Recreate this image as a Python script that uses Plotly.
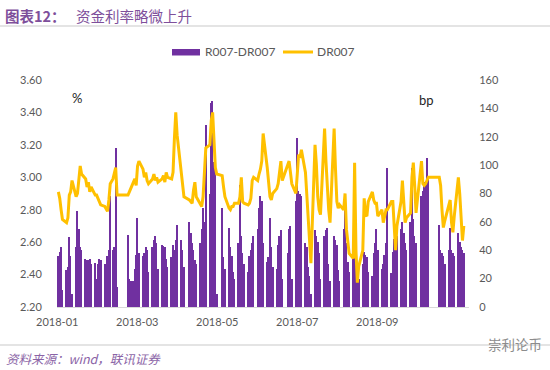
import pandas as pd
import plotly.graph_objects as go

# ---------------- data ----------------
title_prefix = "图表12："
title_text = "资金利率略微上升"
bar_name = "R007-DR007"
line_name = "DR007"
left_unit = "%"
right_unit = "bp"
source_text = "资料来源：wind，联讯证券"
watermark = "崇利论币"

tick_dates = ["2018-01-01 04:30", "2018-02-28 19:00", "2018-04-28 09:30",
              "2018-06-26 00:00", "2018-08-23 14:30"]
tick_labels = ["2018-01", "2018-03", "2018-05", "2018-07", "2018-09"]

holidays = ["2018-02-15", "2018-02-16", "2018-02-19", "2018-02-20", "2018-02-21",
            "2018-04-05", "2018-04-06", "2018-04-30", "2018-05-01", "2018-06-18",
            "2018-09-24", "2018-10-01", "2018-10-02", "2018-10-03", "2018-10-04",
            "2018-10-05"]
makeup_days = ["2018-02-11", "2018-02-24", "2018-04-08", "2018-04-28",
               "2018-09-29", "2018-09-30"]

# R007-DR007 spread (bp), by month
spread_jan = [36, 39, 42, 12, 26, 28, 49, 36, 9, 42, 68, 55, 42, 40, 34, 33, 33, 34, 30, 31, 20, 30]
spread_feb = [34, 33, 30, 27, 36, 40, 78, 40, 42, 112, 14, 51, 20, 18, 18, 27, 37]
spread_mar = [63, 38, 36, 38, 42, 40, 25, 42, 47, 50, 45, 27, 44, 43, 42, 34, 28, 35, 44, 40, 47, 58]
spread_apr = [47, 40, 28, 60, 52, 45, 40, 33, 30, 45, 55, 70, 60, 128, 80, 144, 145, 102, 95, 9]
spread_may = [70, 35, 27, 56, 42, 36, 25, 20, 45, 86, 50, 38, 30, 25, 36, 40, 45, 50, 55, 70, 78, 75]
spread_jun = [45, 32, 35, 63, 42, 28, 27, 44, 50, 54, 20, 38, 55, 57, 20, 75, 119, 82, 80, 78]
spread_jul = [45, 42, 28, 22, 9, 54, 50, 46, 38, 20, 50, 54, 56, 30, 18, 50, 47, 44, 26, 18, 55, 72]
spread_aug = [45, 32, 25, 45, 95, 40, 30, 20, 30, 39, 37, 35, 25, 22, 38, 45, 55, 40, 27, 30, 37, 45, 98]
spread_sep = [24, 39, 48, 55, 50, 55, 60, 52, 45, 40, 60, 98, 62, 50, 45, 78, 82, 85, 88, 105, 90]
spread_oct = [58, 40, 38, 36, 30, 40, 56, 40, 38, 36, 52, 46, 42, 40, 38]

# DR007 (%), by month
dr007_jan = [2.91, 2.87, 2.80, 2.74, 2.72, 2.75, 2.89, 2.91, 2.98, 2.88, 2.90, 2.97, 3.07, 3.02,
             2.99, 2.94, 2.97, 2.91, 2.94, 2.89, 2.89, 2.87]
dr007_feb = [2.85, 2.83, 2.82, 2.80, 2.79, 2.86, 2.96, 2.99, 3.03, 3.06, 2.89, 2.89, 2.91, 2.93,
             2.96, 2.99, 2.95]
dr007_mar = [3.07, 3.10, 3.05, 3.00, 3.03, 2.98, 2.96, 2.99, 3.02, 2.98, 3.00, 2.97, 2.99, 3.01,
             2.97, 3.03, 3.00, 2.99, 3.03, 3.24, 3.40, 3.26]
dr007_apr = [3.04, 2.96, 2.88, 2.86, 2.85, 2.84, 2.92, 2.97, 2.88, 2.83, 2.82, 2.88, 3.00, 3.18,
             3.20, 3.35, 3.40, 3.22, 3.06, 3.02]
dr007_may = [3.01, 2.94, 2.88, 2.81, 2.80, 2.82, 2.82, 2.84, 2.84, 2.88, 3.00, 2.85, 2.84, 2.83,
             2.84, 2.87, 2.98, 3.00, 2.98, 3.02, 3.05, 3.10]
dr007_jun = [3.27, 3.06, 2.96, 2.88, 2.86, 2.90, 2.93, 2.96, 3.03, 3.10, 2.98, 3.08, 3.10, 3.03,
             2.96, 2.90, 3.00, 3.14, 3.12, 3.17]
dr007_jul = [3.03, 2.90, 2.75, 2.60, 2.47, 3.20, 3.08, 2.88, 2.80, 2.77, 3.30, 3.10, 2.92, 2.80,
             2.72, 3.30, 3.05, 2.85, 2.81, 2.83, 2.80, 2.90]
dr007_aug = [2.68, 2.60, 2.53, 2.50, 3.09, 2.55, 2.35, 2.45, 2.55, 2.87, 2.77, 2.76, 2.85, 2.91,
             2.86, 2.84, 2.84, 2.76, 2.80, 2.72, 2.77, 2.80, 2.80]
dr007_sep = [2.85, 2.85, 2.72, 2.55, 2.70, 2.85, 2.98, 2.84, 2.72, 2.75, 2.78, 3.00, 3.09, 2.95,
             2.78, 3.10, 2.96, 2.95, 2.96, 2.98, 3.00]
dr007_oct = [3.00, 2.95, 2.80, 2.69, 2.73, 2.83, 2.86, 2.72, 2.66, 2.76, 3.00, 2.90, 2.72, 2.61,
             2.70]

spread = (spread_jan + spread_feb + spread_mar + spread_apr + spread_may + spread_jun
          + spread_jul + spread_aug + spread_sep + spread_oct)
dr007 = (dr007_jan + dr007_feb + dr007_mar + dr007_apr + dr007_may + dr007_jun
         + dr007_jul + dr007_aug + dr007_sep + dr007_oct)

# trading calendar (weekdays minus holidays, plus make-up working days)
dates = sorted((set(pd.bdate_range("2018-01-02", "2018-10-26")) - set(pd.to_datetime(holidays)))
               | set(pd.to_datetime(makeup_days)))
assert len(dates) == len(spread) == len(dr007), (len(dates), len(spread), len(dr007))

# ---------------- layout geometry ----------------
W, H = 550, 370
L, R, T, B = 57, 81, 80, 63


def xp(px):
    return (px - L) / (W - L - R)


def yp(py):
    return (H - B - py) / (H - T - B)


PURPLE = "#7030A0"
GOLD = "#FFC000"
TICK = dict(family="Lato, 'Open Sans', sans-serif", size=11, color="#595959")

fig = go.Figure()
fig.add_trace(go.Bar(x=dates, y=spread, name=bar_name, yaxis="y",
                     marker=dict(color=PURPLE, line=dict(width=0))))
fig.add_trace(go.Scatter(x=dates, y=dr007, name=line_name, yaxis="y2", mode="lines",
                         line=dict(color=GOLD, width=3)))

shapes = [
    dict(type="line", xref="paper", yref="paper", x0=xp(0), x1=xp(550), y0=yp(26), y1=yp(26),
         line=dict(color="#C9C9C9", width=1)),
    dict(type="rect", xref="paper", yref="paper", x0=xp(172), x1=xp(200), y0=yp(49), y1=yp(55.5),
         fillcolor=PURPLE, line=dict(width=0)),
    dict(type="line", xref="paper", yref="paper", x0=xp(283), x1=xp(313), y0=yp(52), y1=yp(52),
         line=dict(color=GOLD, width=3)),
    dict(type="line", xref="paper", yref="paper", x0=xp(0), x1=xp(550), y0=yp(345), y1=yp(345),
         line=dict(color="#C9C9C9", width=1)),
]

CJK = "'Noto Sans CJK SC', sans-serif"
TITLE_COLOR = "#7E4F9B"


def ann(text, px, py, size, color, family=CJK, anchor="left"):
    return dict(text=text, x=xp(px), y=yp(py), xref="paper", yref="paper", showarrow=False,
                xanchor=anchor, yanchor="middle", font=dict(family=family, size=size, color=color))


annotations = [
    ann("<b>" + title_prefix + "</b>", 3, 15, 14.5, TITLE_COLOR),
    ann(title_text, 74, 15, 14.5, TITLE_COLOR),
    ann(bar_name, 203, 52, 12, "#595959", family="Lato, sans-serif"),
    ann(line_name, 315, 52, 12, "#595959", family="Lato, sans-serif"),
    ann(left_unit, 77, 98, 13, "#262626", family="Lato, sans-serif", anchor="center"),
    ann(right_unit, 426, 100, 13, "#262626", family="Lato, sans-serif", anchor="center"),
    ann("<i>" + source_text + "</i>", 4, 358, 12.5, "#8A63A6"),
    ann(watermark, 486, 344, 13.5, "#8C8C8C"),
]

fig.update_layout(
    width=W, height=H,
    margin=dict(l=L, r=R, t=T, b=B, pad=0),
    paper_bgcolor="white", plot_bgcolor="white",
    showlegend=False,
    bargap=0,
    shapes=shapes,
    annotations=annotations,
    xaxis=dict(type="date", range=["2018-01-01 00:00", "2018-10-29 19:00"],
               tickmode="array", tickvals=tick_dates, ticktext=tick_labels,
               showgrid=False, zeroline=False, showline=True, linecolor="#D9D9D9", linewidth=1,
               ticks="outside", ticklen=5, tickcolor="rgba(0,0,0,0)", tickfont=TICK),
    yaxis=dict(side="right", range=[0, 160], tickmode="linear", tick0=0, dtick=20,
               showgrid=False, zeroline=False, showline=False,
               ticks="outside", ticklen=7, tickcolor="rgba(0,0,0,0)", tickfont=TICK),
    yaxis2=dict(side="left", overlaying="y", range=[2.2, 3.6], tickmode="linear", tick0=2.2,
                dtick=0.2, tickformat=".2f", showgrid=False, zeroline=False, showline=False,
                ticks="outside", ticklen=12, tickcolor="rgba(0,0,0,0)", tickfont=TICK),
)

fig.write_html("out.html", config={"displayModeBar": False},
               post_script="document.body.style.margin='0';")
